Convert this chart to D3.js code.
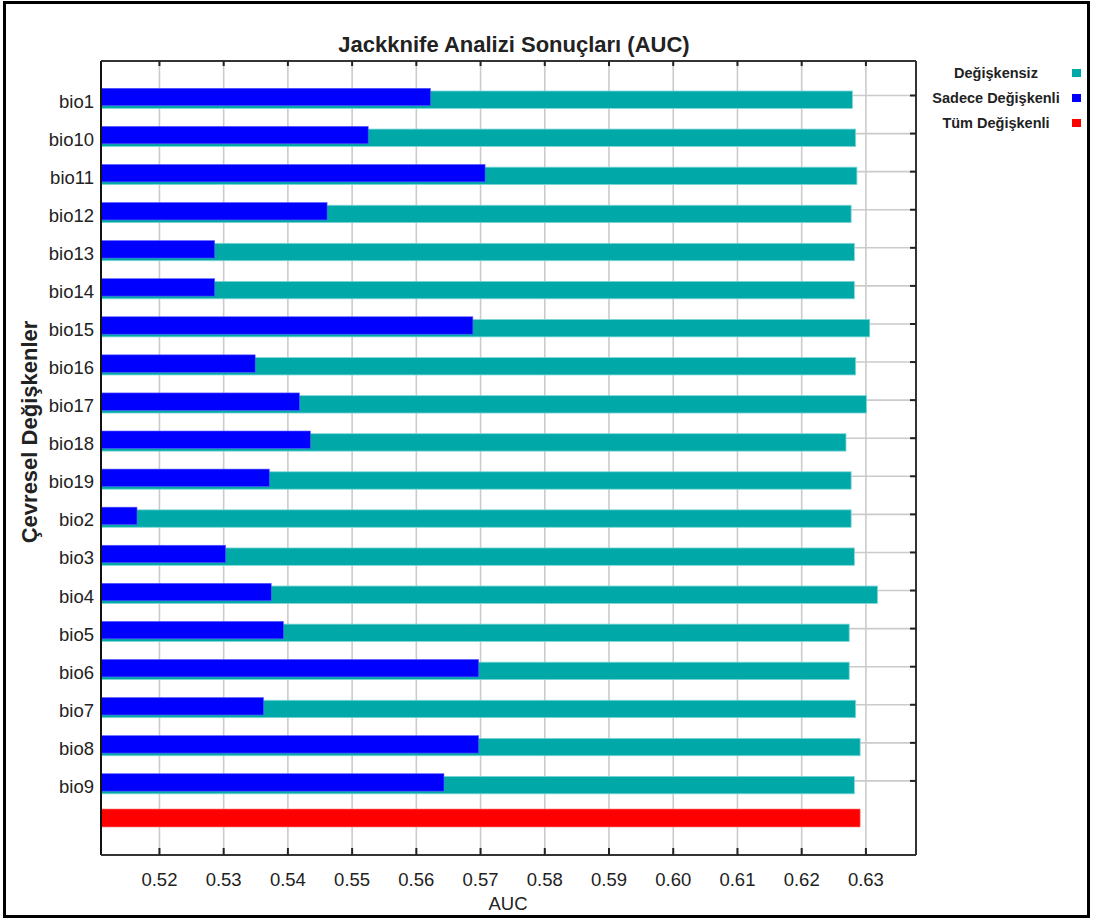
<!DOCTYPE html>
<html>
<head>
<meta charset="utf-8">
<script src="https://cdn.jsdelivr.net/npm/d3@7"></script>
<style>
  html, body { margin: 0; padding: 0; background: #fff; }
  svg { display: block; }
  text { font-family: "Liberation Sans", Arial, sans-serif; fill: #222; }
</style>
</head>
<body>
<svg id="chart" width="1094" height="921"></svg>
<script>
// Environmental variables tested in the jackknife
const categories = ["bio1", "bio10", "bio11", "bio12", "bio13", "bio14", "bio15", "bio16", "bio17",
  "bio18", "bio19", "bio2", "bio3", "bio4", "bio5", "bio6", "bio7", "bio8", "bio9"];

// AUC of the model built without each variable
const withoutValues = [0.6279, 0.6284, 0.6286, 0.6277, 0.6282, 0.6282, 0.6306, 0.6284, 0.6301,
  0.6269, 0.6277, 0.6277, 0.6282, 0.6318, 0.6274, 0.6274, 0.6284, 0.6291, 0.6282];

// AUC of the model built with only each variable
const onlyValues = [0.5622, 0.5525, 0.5707, 0.5461, 0.5286, 0.5286, 0.5688, 0.5349, 0.5418,
  0.5435, 0.5371, 0.5165, 0.5303, 0.5374, 0.5393, 0.5697, 0.5362, 0.5697, 0.5643];

// AUC of the model built with all variables
const allValue = 0.6291;

const xTicks = [0.52, 0.53, 0.54, 0.55, 0.56, 0.57, 0.58, 0.59, 0.60, 0.61, 0.62, 0.63];
const xDomain = [0.5109, 0.6378];

const legendLabels = ["Değişkensiz", "Sadece Değişkenli", "Tüm Değişkenli"];
const colors = { without: "#00a8a8", only: "#0000ff", all: "#ff0000" };

const titleText = "Jackknife Analizi Sonuçları (AUC)";
const xTitle = "AUC";
const yTitle = "Çevresel Değişkenler";

const svg = d3.select("#chart");
const plot = { left: 101, right: 916, top: 61, bottom: 855 };

// Outer frame
svg.append("rect")
  .attr("x", 4.5).attr("y", 2.5).attr("width", 1084).attr("height", 914)
  .attr("fill", "#fff").attr("stroke", "#000").attr("stroke-width", 3);

const x = d3.scaleLinear().domain(xDomain).range([plot.left, plot.right]);

// One row per variable plus a final row for the full model
const rowKeys = categories.concat(["__all__"]);
const y = d3.scalePoint().domain(rowKeys).range([95.5, 819]);

// Vertical grid
svg.append("g").selectAll("line").data(xTicks).join("line")
  .attr("x1", d => x(d)).attr("x2", d => x(d))
  .attr("y1", plot.top).attr("y2", plot.bottom)
  .attr("stroke", "#cbcbcb").attr("stroke-width", 1.6);

// Horizontal grid (variable rows only)
svg.append("g").selectAll("line").data(categories).join("line")
  .attr("x1", plot.left).attr("x2", plot.right)
  .attr("y1", d => y(d)).attr("y2", d => y(d))
  .attr("stroke", "#cbcbcb").attr("stroke-width", 1.6);

const barH = 17.4;
const x0 = x(xDomain[0]);

// Bars: without variable (teal) underneath, only variable (blue) on top
svg.append("g").selectAll("rect").data(categories).join("rect")
  .attr("x", x0).attr("y", d => y(d) - 4.5)
  .attr("width", (d, i) => x(withoutValues[i]) - x0).attr("height", barH)
  .attr("fill", colors.without).attr("stroke", "#7fd6d6").attr("stroke-width", 0.8);

svg.append("g").selectAll("rect").data(categories).join("rect")
  .attr("x", x0).attr("y", d => y(d) - 7.2)
  .attr("width", (d, i) => x(onlyValues[i]) - x0).attr("height", barH)
  .attr("fill", colors.only).attr("stroke", "#5a5aff").attr("stroke-width", 0.6);

svg.append("rect")
  .attr("x", x0).attr("y", y("__all__") - 10)
  .attr("width", x(allValue) - x0).attr("height", 18)
  .attr("fill", colors.all).attr("stroke", "#ff8080").attr("stroke-width", 0.6);

// Plot frame
const frame = svg.append("g").attr("stroke", "#333").attr("stroke-width", 2).attr("fill", "none");
frame.append("line").attr("x1", plot.left).attr("x2", plot.left).attr("y1", plot.top).attr("y2", plot.bottom).attr("stroke", "#111");
frame.append("line").attr("x1", plot.right).attr("x2", plot.right).attr("y1", plot.top).attr("y2", plot.bottom);
frame.append("line").attr("x1", plot.left).attr("x2", plot.right).attr("y1", plot.top).attr("y2", plot.top);
frame.append("line").attr("x1", plot.left).attr("x2", plot.right).attr("y1", plot.bottom).attr("y2", plot.bottom);

// Inward ticks on top, bottom and right edges
const ticks = svg.append("g").attr("stroke", "#222").attr("stroke-width", 2);
ticks.selectAll(".tt").data(xTicks).join("line").attr("class", "tt")
  .attr("x1", d => x(d)).attr("x2", d => x(d)).attr("y1", plot.top).attr("y2", plot.top + 5);
ticks.selectAll(".tb").data(xTicks).join("line").attr("class", "tb")
  .attr("x1", d => x(d)).attr("x2", d => x(d)).attr("y1", plot.bottom).attr("y2", plot.bottom - 7);
ticks.selectAll(".tr").data(categories).join("line").attr("class", "tr")
  .attr("x1", plot.right).attr("x2", plot.right - 6).attr("y1", d => y(d)).attr("y2", d => y(d));

// X tick labels
svg.append("g").selectAll("text").data(xTicks).join("text")
  .attr("x", d => x(d)).attr("y", 886)
  .attr("text-anchor", "middle").attr("font-size", 18.5)
  .text(d3.format(".2f"));

// Y category labels
svg.append("g").selectAll("text").data(categories).join("text")
  .attr("x", 94).attr("y", d => y(d) + 12)
  .attr("text-anchor", "end").attr("font-size", 18.5)
  .text(d => d);

// Titles
svg.append("text").attr("x", 514).attr("y", 52).attr("text-anchor", "middle")
  .attr("font-size", 22).attr("font-weight", "bold").text(titleText);
svg.append("text").attr("x", 508).attr("y", 910).attr("text-anchor", "middle")
  .attr("font-size", 18.5).text(xTitle);
svg.append("text").attr("transform", "translate(37,432) rotate(-90)").attr("text-anchor", "middle")
  .attr("font-size", 22).attr("font-weight", "bold").text(yTitle);

// Legend
const legendColors = [colors.without, colors.only, colors.all];
const legend = svg.append("g").selectAll("g").data(legendLabels).join("g")
  .attr("transform", (d, i) => `translate(0,${73 + i * 25})`);
legend.append("text").attr("x", 996).attr("y", 5).attr("text-anchor", "middle")
  .attr("font-size", 14.5).attr("font-weight", "bold").text(d => d);
legend.append("rect").attr("x", 1072).attr("y", -4).attr("width", 9).attr("height", 8)
  .attr("fill", (d, i) => legendColors[i]);
</script>
</body>
</html>
